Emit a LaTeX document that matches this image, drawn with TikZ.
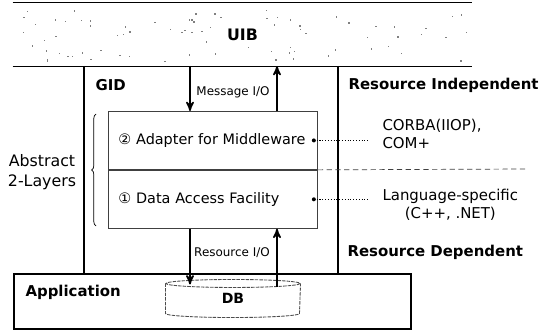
\documentclass[tikz,border=0pt]{standalone}
\usepackage{fontspec}
\setmainfont{DejaVu Sans}
\usepackage{tikz}
\usetikzlibrary{arrows,shapes,positioning,calc,decorations.pathreplacing}

\begin{document}
\begin{tikzpicture}[x=0.02cm,y=-0.02cm,>=stealth',semithick]
  \tikzstyle{wall}=[line width=0.9pt]
  \tikzstyle{layerbox}=[draw=black!75,line width=0.5pt,rectangle,anchor=north west,minimum width=4.18cm,minimum height=1.16cm,text width=3.78cm,inner xsep=0.2cm,align=left,font=\fontsize{8.2}{10}\selectfont]
  \tikzstyle{heading}=[font=\bfseries\fontsize{8.5}{10}\selectfont,inner sep=0pt]
  \tikzstyle{iolabel}=[font=\fontsize{6.8}{8}\selectfont,inner sep=0pt]
  \tikzstyle{sidetext}=[font=\fontsize{8.5}{10}\selectfont,inner sep=0pt]
  \tikzstyle{dbline}=[black!70,line width=0.5pt,dash pattern=on 2pt off 0.6pt]

  \useasboundingbox (0,0) rectangle (550,331);

  % UIB band with its speckles
  \pgfmathsetseed{42}
  \foreach \i in {1,...,80}{
    \pgfmathsetmacro{\px}{16+452*rnd}
    \pgfmathsetmacro{\py}{9+52*rnd}
    \pgfmathtruncatemacro{\keep}{(abs(\px-242)<24 && abs(\py-34)<9) ? 0 : 1}
    \ifnum\keep=1 \fill[black!50] (\px,\py) rectangle ++(1.4,1.4); \fi
  }
  \node[minimum width=9.18cm, minimum height=1.26cm, inner sep=0pt, font=\bfseries\fontsize{9}{10}\selectfont] (uib) at (242.5,34.5) {UIB};
  \draw[wall] (uib.north west) -- (uib.north east);
  \draw[wall] (uib.south west) -- (uib.south east);

  % application and DB
  \node[draw,wall,rectangle,anchor=north west,minimum width=7.94cm,minimum height=1.1cm,inner sep=0pt] (app) at (13,273) {};
  \node[heading,anchor=west] (apptext) at (25,292) {Application};
  \node[minimum width=2.68cm,minimum height=0.74cm,inner sep=0pt,font=\bfseries\fontsize{8}{9}\selectfont] (db) at (233,298.5) {DB};
  \draw[dbline] ($(db.north)+(0,4)$) ellipse (67 and 4);
  \draw[dbline] ($(db.north west)+(0,4)$) -- ($(db.south west)+(0,-4)$) arc (180:0:67 and 4) -- ($(db.north east)+(0,4)$);

  % the two layers
  \node[layerbox] (adapter) at (108,111) {② Adapter for Middleware};
  \node[layerbox,anchor=north] (access) at (adapter.south) {① Data Access Facility};

  % GID walls
  \coordinate (gidl) at (84,66);
  \coordinate (gidr) at (338,66);
  \draw[wall] (gidl) -- (gidl |- app.north);
  \draw[wall] (gidr) -- (gidr |- app.north);
  \node[heading,anchor=west] (gid) at (95,85) {GID};
  \node[heading,anchor=west] (resind) at (348,85) {Resource Independent};
  \node[heading,anchor=west] (resdep) at (347,252) {Resource Dependent};

  % message and resource I/O
  \coordinate (iodown) at (190,66);
  \coordinate (ioup) at (277,66);
  \draw[->,wall] (iodown) -- (iodown |- adapter.north);
  \draw[->,wall] (ioup |- adapter.north) -- (ioup);
  \node[iolabel] (msgio) at (233,92) {Message I/O};
  \draw[->,wall] (iodown |- access.south) -- ($(iodown |- db.north)+(0,5)$);
  \draw[->,wall] ($(ioup |- db.north)+(0,8)$) -- (ioup |- access.south);
  \node[iolabel] (resio) at (232,253) {Resource I/O};

  % abstract 2-layers
  \coordinate (bracebot) at (96,226);
  \coordinate (bracetop) at (96,114);
  \draw[thin,decorate,decoration={brace,amplitude=2.5pt}] (bracebot) -- (bracetop);
  \node[sidetext,align=center,font=\fontsize{9}{11}\selectfont] (abstract) at (42,172) {Abstract\\2-Layers};

  % middleware and language side
  \coordinate (divend) at (527,169);
  \draw[thin,densely dashed,black!75] (adapter.south east) -- (divend);
  \coordinate (mwdot) at ($(adapter.east)+(-4,0)$);
  \coordinate (dadot) at ($(access.east)+(-4,0)$);
  \fill (mwdot) circle (2);
  \fill (dadot) circle (2);
  \node[sidetext,anchor=west,align=left] (corba) at (382,134) {CORBA(IIOP),\\COM+};
  \node[sidetext,anchor=west,align=center] (lang) at (382,205) {Language-specific\\(C++, .NET)};
  \draw[densely dotted] (mwdot) -- ($(mwdot -| corba.west)+(-14,0)$);
  \draw[densely dotted] (dadot) -- ($(dadot -| lang.west)+(-14,0)$);
\end{tikzpicture}
\end{document}
